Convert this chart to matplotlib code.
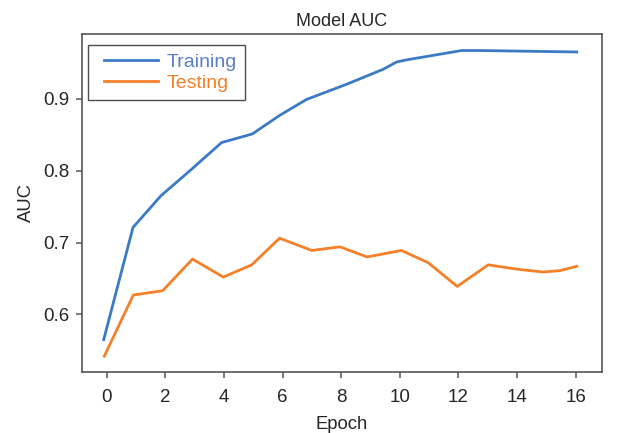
import matplotlib
matplotlib.use("Agg")
import matplotlib.pyplot as plt
from matplotlib.legend_handler import HandlerLine2D

train_epoch = [-0.1, 0.9, 1.85, 2.9, 3.92, 4.97, 5.91, 6.82, 8.18, 9.44, 9.89, 10.23, 12.11, 12.74, 16.04]
train_auc = [0.565, 0.721, 0.765, 0.802, 0.839, 0.851, 0.877, 0.899, 0.920, 0.941, 0.951, 0.954, 0.967, 0.967, 0.965]

test_epoch = [-0.08, 0.91, 1.91, 2.93, 3.98, 4.95, 5.90, 7.0, 7.96, 8.89, 10.06, 10.97, 11.96, 13.02, 13.99, 14.9, 15.47, 16.04]
test_auc = [0.542, 0.627, 0.633, 0.677, 0.652, 0.669, 0.706, 0.689, 0.694, 0.680, 0.689, 0.672, 0.639, 0.669, 0.663, 0.659, 0.661, 0.667]

x_ticks = [0, 2, 4, 6, 8, 10, 12, 14, 16]
y_ticks = [0.6, 0.7, 0.8, 0.9]

plt.rcParams['font.family'] = ['Liberation Sans', 'DejaVu Sans']
text_color = '#262626'
spine_color = '#555555'
blue = '#3b7bc6'
orange = '#f5802a'

fig = plt.figure(figsize=(6.28, 4.33), dpi=100)
ax = fig.add_axes([0.1306, 0.1409, 0.828, 0.7806])

ax.plot(train_epoch, train_auc, color=blue, lw=2.0, label='Training', solid_joinstyle='round')
ax.plot(test_epoch, test_auc, color=orange, lw=2.0, label='Testing', solid_joinstyle='round')

ax.set_xlim(-0.84, 16.9)
ax.set_ylim(0.520, 0.990)
ax.set_xticks(x_ticks)
ax.set_yticks(y_ticks)
ax.set_xticklabels([str(t) for t in x_ticks])
ax.set_yticklabels([f"{t:.1f}" for t in y_ticks])

for s in ax.spines.values():
    s.set_color(spine_color)
    s.set_linewidth(1.2)
ax.tick_params(axis='both', direction='out', length=4.3, width=1.1, color=spine_color,
               labelsize=13.5, labelcolor=text_color)
ax.tick_params(axis='x', pad=8.0)
ax.tick_params(axis='y', pad=4.5)

ax.set_title('Model AUC', fontsize=13, color=text_color, pad=6)
ax.set_xlabel('Epoch', fontsize=13.3, color=text_color, labelpad=7)
ax.set_ylabel('AUC', fontsize=13.3, color=text_color, labelpad=6)

leg = ax.legend(loc='upper left', bbox_to_anchor=(0.0115, 0.9675), borderaxespad=0,
                fontsize=14, frameon=True, fancybox=False, handlelength=3.19,
                handletextpad=0.46, borderpad=0.41, labelspacing=0.2,
                handler_map={plt.Line2D: HandlerLine2D(xpad=0.42)})
leg.get_frame().set_edgecolor('#222222')
leg.get_frame().set_linewidth(1.0)
for txt, c in zip(leg.get_texts(), ['#5a7fc8', orange]):
    txt.set_color(c)

fig.savefig('out.png', dpi=100)
